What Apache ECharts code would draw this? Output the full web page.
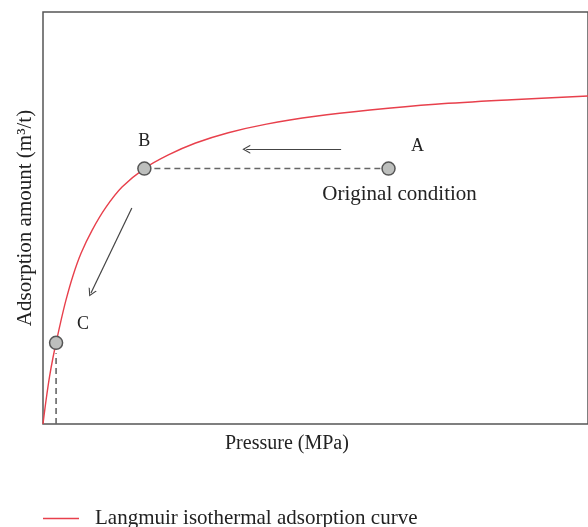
<!DOCTYPE html>
<html>
<head>
<meta charset="utf-8">
<script src="https://cdn.jsdelivr.net/npm/echarts@6/dist/echarts.min.js"></script>
<style>
  html, body { margin: 0; padding: 0; background: #fff; }
  #chart { width: 588px; height: 527px; }
</style>
</head>
<body>
<div id="chart"></div>
<script>
// 曲线读数（相对单位，0-100）
const curveX = [0, 0.3, 0.7, 1.2, 1.8, 2.4, 3.2, 4.2, 5.5, 7, 9, 11.5, 14.5, 18.6, 23, 28, 34, 41, 50, 60, 72, 86, 100]
const curveY = [0, 3.2, 7.1, 11.5, 15.9, 19.7, 24.5, 30, 36, 41.5, 47, 52.5, 57.5, 62, 65.3, 68.2, 70.7, 72.8, 74.7, 76.2, 77.6, 78.7, 79.6]

// 标注点 A / B / C
const pointNames = ['A', 'B', 'C']
const pointX = [63.4, 18.6, 2.4]
const pointY = [62, 62, 19.7]

// 箭头 (起点 -> 终点)
const arrowFrom = [[54.7, 66.7], [16.3, 52.4]]
const arrowTo = [[37.3, 66.7], [8.8, 31.8]]

const legendName = 'Langmuir isothermal adsorption curve'
const serif = 'Liberation Serif'
const textColor = '#222'
const chevron = 'path://M0,10 L5,0 L10,10 L8.6,10 L5,2.8 L1.4,10 Z'

const chart = echarts.init(document.getElementById('chart'))

const labelPos = {
  A: { offset: [29, -22] },
  B: { offset: [0, -27] },
  C: { offset: [27, -19] }
}

const option = {
  animation: false,
  title: {
    text: 'Pressure (MPa)',
    left: 220,
    top: 429,
    textStyle: { fontFamily: serif, fontSize: 20, fontWeight: 'normal', color: textColor }
  },
  legend: {
    data: [legendName],
    left: 38,
    top: 503,
    icon: 'rect',
    itemWidth: 36,
    itemHeight: 1.5,
    textStyle: { fontFamily: serif, fontSize: 21, color: textColor, padding: [0, 0, 0, 11] }
  },
  grid: {
    left: 43,
    right: -3,
    top: 12,
    bottom: 103,
    show: true,
    borderColor: '#555',
    borderWidth: 1.5
  },
  xAxis: {
    type: 'value',
    min: 0,
    max: 100,
    axisLine: { show: false },
    axisTick: { show: false },
    axisLabel: { show: false },
    splitLine: { show: false }
  },
  yAxis: {
    type: 'value',
    min: 0,
    max: 100,
    name: 'Adsorption amount (m³/t)',
    nameLocation: 'middle',
    nameGap: 7,
    nameTextStyle: { fontFamily: serif, fontSize: 21, color: textColor },
    axisLine: { show: false },
    axisTick: { show: false },
    axisLabel: { show: false },
    splitLine: { show: false }
  },
  series: [
    {
      name: legendName,
      type: 'line',
      smooth: 0.35,
      showSymbol: false,
      data: curveX.map((x, i) => [x, curveY[i]]),
      lineStyle: { color: '#e8404c', width: 1.4 },
      itemStyle: { color: '#e8404c' },
      z: 3
    },
    {
      // B -> A 虚线
      type: 'line',
      showSymbol: false,
      data: [[pointX[1], pointY[1]], [pointX[0], pointY[0]]],
      lineStyle: { color: '#666', width: 1.6, type: [6, 4] },
      z: 2
    },
    {
      // C 向下虚线
      type: 'line',
      showSymbol: false,
      data: [[pointX[2], 0], [pointX[2], pointY[2] - 2.5]],
      lineStyle: { color: '#666', width: 1.6, type: [6, 4] },
      z: 2
    },
    {
      // 箭头
      type: 'line',
      data: [],
      markLine: {
        silent: true,
        symbol: ['none', chevron],
        symbolSize: [9, 8],
        label: { show: false },
        lineStyle: { color: '#444', width: 1.2, type: 'solid' },
        data: arrowFrom.map((p, i) => [{ coord: p }, { coord: arrowTo[i] }])
      }
    },
    {
      type: 'scatter',
      symbolSize: 13,
      itemStyle: { color: '#bdbfbd', borderColor: '#555', borderWidth: 1.5, opacity: 1 },
      data: pointNames.map((n, i) => ({
        value: [pointX[i], pointY[i]],
        label: {
          show: true,
          formatter: n,
          position: 'inside',
          offset: labelPos[n].offset,
          fontFamily: serif,
          fontSize: 18,
          color: textColor,
          textBorderWidth: 0
        }
      })),
      z: 5
    },
    {
      // Original condition 文字
      type: 'scatter',
      symbolSize: 0,
      itemStyle: { opacity: 1 },
      data: [{
        value: [pointX[0], pointY[0]],
        label: {
          show: true,
          formatter: 'Original condition',
          position: 'inside',
          offset: [11, 26],
          fontFamily: serif,
          fontSize: 21,
          color: textColor,
          textBorderWidth: 0
        }
      }]
    }
  ]
}

chart.setOption(option)
window.addEventListener('resize', () => chart.resize())
</script>
</body>
</html>
